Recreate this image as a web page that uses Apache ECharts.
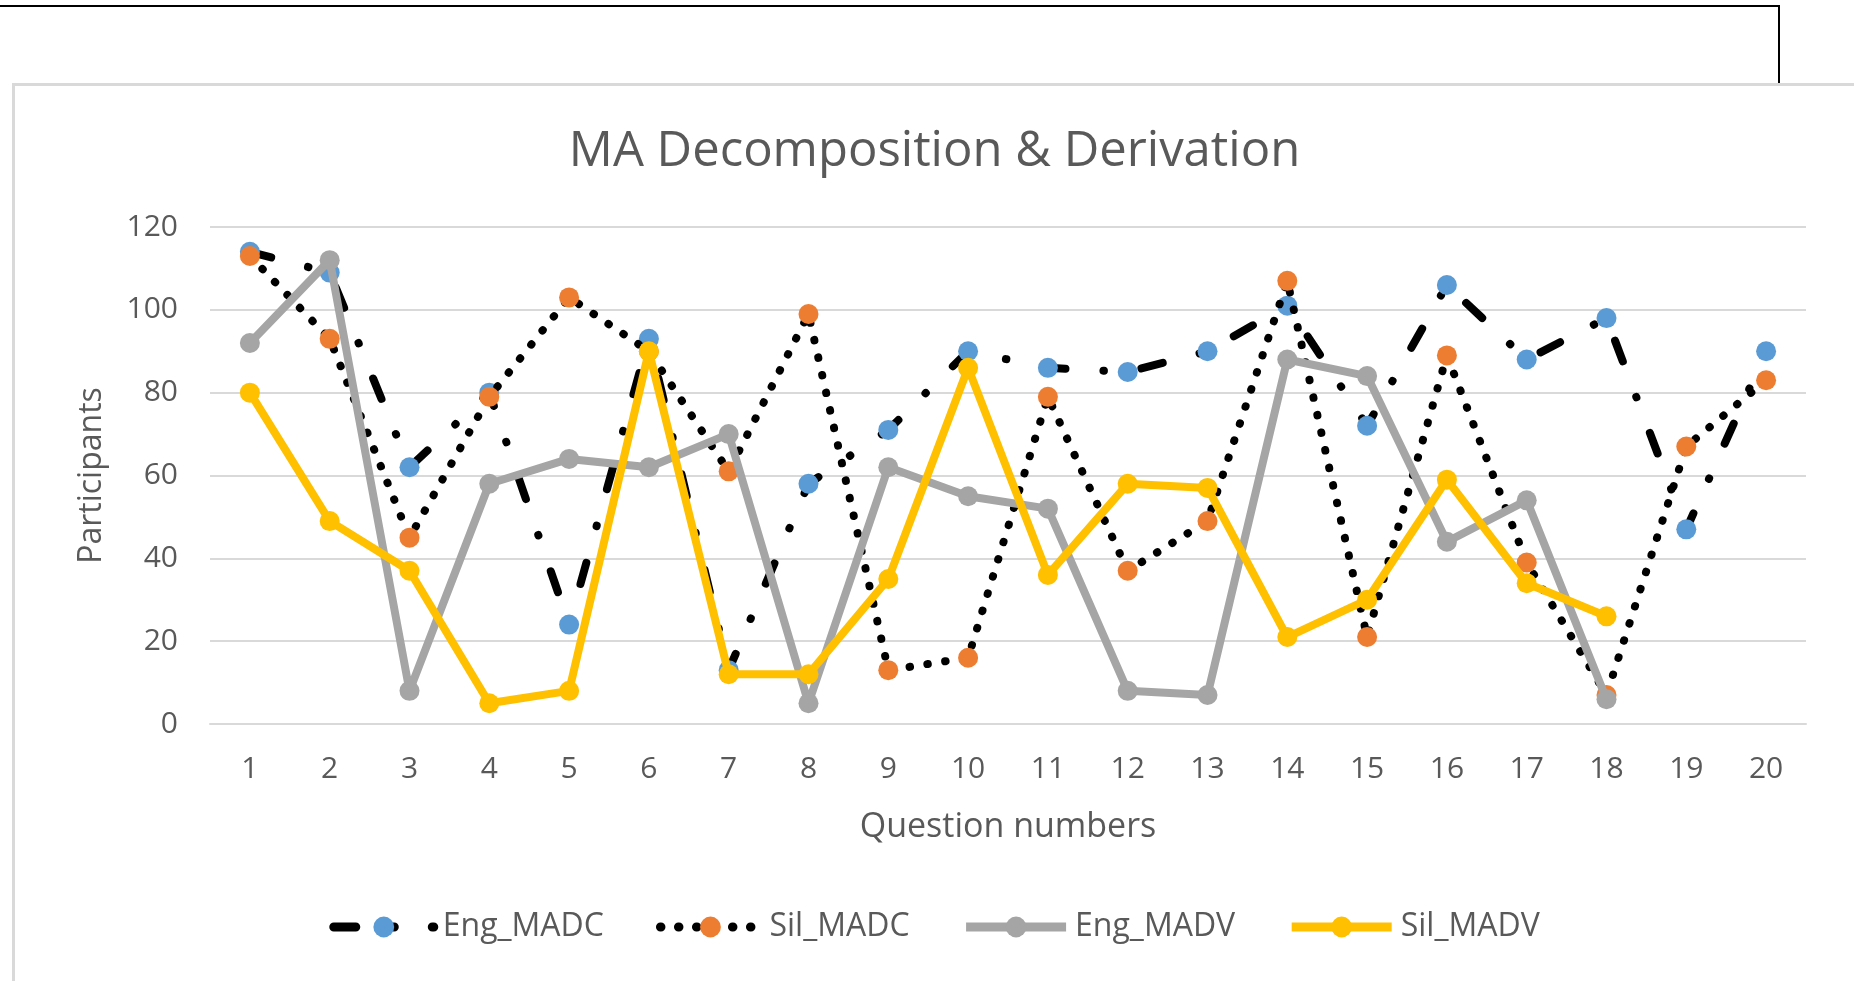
<!DOCTYPE html>
<html>
<head>
<meta charset="utf-8">
<title>MA Decomposition & Derivation</title>
<script src="https://cdn.jsdelivr.net/npm/echarts@6/dist/echarts.min.js"></script>
<style>
  html, body { margin: 0; padding: 0; background: #fff; overflow: hidden; }
  #frame { position: absolute; left: 0; top: 5px; width: 1780px; height: 150px; border-top: 2px solid #000; border-right: 2px solid #000; box-sizing: border-box; }
  #chart { position: absolute; left: 12px; top: 83px; width: 1842px; height: 910px; border-top: 3px solid #D9D9D9; border-left: 3px solid #D9D9D9; background: #fff; box-sizing: border-box; }
</style>
</head>
<body>
<div id="frame"></div>
<div id="chart"></div>
<script>
// question numbers on the x axis
var questions = ['1','2','3','4','5','6','7','8','9','10','11','12','13','14','15','16','17','18','19','20'];

// participants per question
var engMADC = [114, 109, 62, 80, 24, 93, 13, 58, 71, 90, 86, 85, 90, 101, 72, 106, 88, 98, 47, 90];
var silMADC = [113, 93, 45, 79, 103, 90, 61, 99, 13, 16, 79, 37, 49, 107, 21, 89, 39, 7, 67, 83];
var engMADV = [92, 112, 8, 58, 64, 62, 70, 5, 62, 55, 52, 8, 7, 88, 84, 44, 54, 6, null, null];
var silMADV = [80, 49, 37, 5, 8, 90, 12, 12, 35, 86, 36, 58, 57, 21, 30, 59, 34, 26, null, null];

var yTicks = [0, 20, 40, 60, 80, 100, 120];

var textColor = '#595959';
var font = '"Open Sans", "Noto Sans", sans-serif';

var myChart = echarts.init(document.getElementById('chart'));

var option = {
    animation: false,
    title: {
        text: 'MA Decomposition & Derivation',
        left: 'center',
        top: 42,
        padding: 0,
        textStyle: { color: textColor, fontSize: 49, fontWeight: 'normal', fontFamily: font }
    },
    legend: {
        data: ['Eng_MADC', 'Sil_MADC', 'Eng_MADV', 'Sil_MADV'],
        left: 'center',
        top: 820,
        itemWidth: 100,
        itemHeight: 26,
        itemGap: 52,
        lineStyle: { width: 9 },
        textStyle: { color: textColor, fontSize: 32, fontFamily: font, padding: [0, 0, 0, 4] }
    },
    grid: {
        left: 195,
        top: 141,
        width: 1596,
        height: 497,
        containLabel: false
    },
    xAxis: {
        type: 'category',
        data: questions,
        name: 'Question numbers',
        nameLocation: 'middle',
        nameGap: 86,
        nameTextStyle: { color: textColor, fontSize: 34, fontFamily: font },
        axisLine: { lineStyle: { color: '#D9D9D9', width: 2 } },
        axisTick: { show: false },
        axisLabel: { color: textColor, fontSize: 30, fontFamily: font, margin: 30 }
    },
    yAxis: {
        type: 'value',
        min: yTicks[0],
        max: yTicks[yTicks.length - 1],
        interval: 20,
        name: 'Participants',
        nameLocation: 'middle',
        nameGap: 102,
        nameTextStyle: { color: textColor, fontSize: 32, fontFamily: font },
        axisLine: { show: false },
        axisTick: { show: false },
        axisLabel: { color: textColor, fontSize: 30, fontFamily: font, margin: 32 },
        splitLine: { lineStyle: { color: '#D9D9D9', width: 2 } }
    },
    series: [
        {
            name: 'Eng_MADC',
            type: 'line',
            data: engMADC,
            z: 2,
            symbol: 'circle',
            symbolSize: 20,
            itemStyle: { color: '#5B9BD5' },
            lineStyle: { color: '#000', width: 8, cap: 'round', type: [22, 38, 0.5, 38] }
        },
        {
            name: 'Sil_MADC',
            type: 'line',
            data: silMADC,
            z: 3,
            symbol: 'circle',
            symbolSize: 20,
            itemStyle: { color: '#ED7D31' },
            lineStyle: { color: '#000', width: 8, cap: 'round', type: [0.5, 17.5] }
        },
        {
            name: 'Eng_MADV',
            type: 'line',
            data: engMADV,
            z: 4,
            symbol: 'circle',
            symbolSize: 20,
            itemStyle: { color: '#A5A5A5' },
            lineStyle: { color: '#A5A5A5', width: 8 }
        },
        {
            name: 'Sil_MADV',
            type: 'line',
            data: silMADV,
            z: 5,
            symbol: 'circle',
            symbolSize: 20,
            itemStyle: { color: '#FFC000' },
            lineStyle: { color: '#FFC000', width: 8 }
        }
    ]
};

myChart.setOption(option);
</script>
</body>
</html>
